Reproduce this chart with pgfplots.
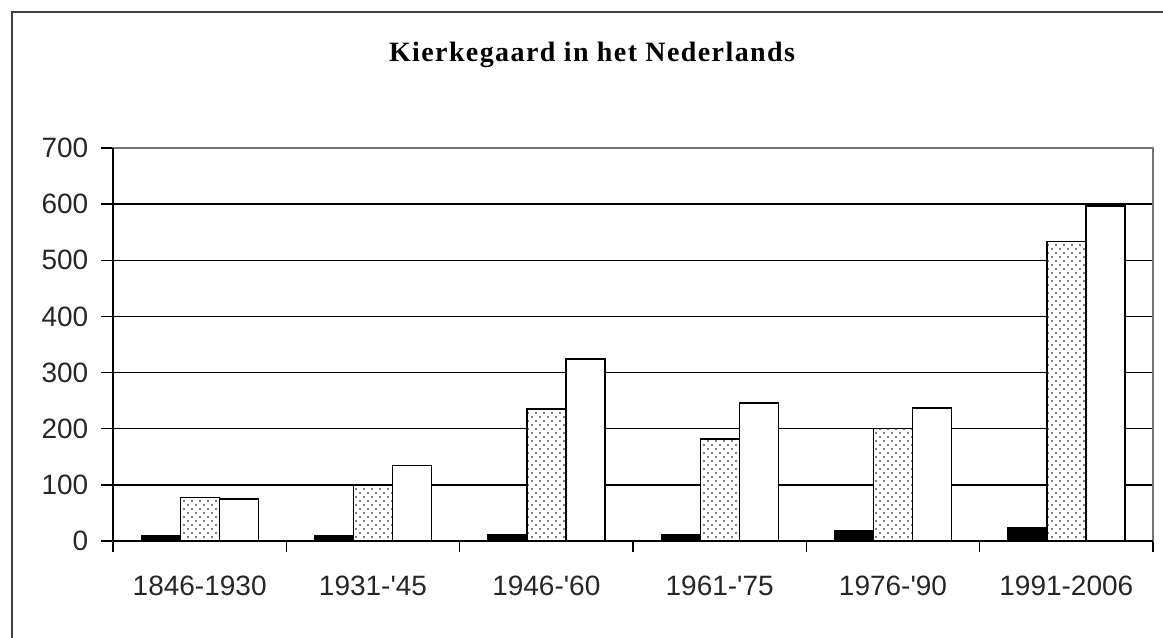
\documentclass[border=0pt]{standalone}
\usepackage{fontspec}
\setmainfont{Liberation Sans}
\newfontfamily\titlefont[LetterSpace=5]{Liberation Serif}
\usepackage{pgfplots}
\pgfplotsset{compat=1.18}
\usetikzlibrary{patterns}
\pgfdeclarepatternformonly{sparsedots}{\pgfqpoint{-1pt}{-1pt}}{\pgfqpoint{7pt}{7pt}}{\pgfqpoint{6pt}{6pt}}{%
  \pgfpathcircle{\pgfqpoint{0pt}{0pt}}{0.65pt}%
  \pgfpathcircle{\pgfqpoint{3pt}{3pt}}{0.65pt}%
  \pgfusepath{fill}%
}
\begin{document}
\begin{tikzpicture}[x=0.75pt,y=-0.75pt]
\useasboundingbox (0,0) rectangle (1163,637);
\draw[line width=1.6pt, black!75] (12,645) -- (12,12) -- (1170,12);
\node[font=\titlefont\bfseries\fontsize{21}{24}\selectfont] at (592,55) {Kierkegaard in het Nederlands};
\begin{axis}[
  at={(84.75pt,-405.75pt)}, anchor=south west,
  scale only axis, width=780pt, height=294.75pt,
  xmin=0, xmax=6, ymin=0, ymax=700,
  ytick={0,100,...,700},
  ymajorgrids, grid style={black, line width=1pt},
  axis line style={black!55, line width=1pt},
  xtick={0.5,1.5,2.5,3.5,4.5,5.5},
  xticklabels={1846-1930,1931-\textquotesingle45,1946-\textquotesingle60,1961-\textquotesingle75,1976-\textquotesingle90,1991-2006},
  major x tick style={draw=none},
  minor xtick={0,1,2,3,4,5,6},
  minor x tick style={black, line width=1pt},
  minor tick length=8pt,
  major tick length=9pt,
  y tick style={black, line width=1pt},
  tick align=outside,
  xtick pos=bottom, ytick pos=left,
  /pgf/number format/assume math mode=true,
  tick label style={font=\fontsize{21}{24}\selectfont, text=black!85},
  xticklabel style={yshift=-14pt},
  yticklabel style={xshift=-6pt},
  ybar=0pt, bar width=0.225,
  clip=false,
]
\addplot[fill=black, draw=black, line width=1pt] coordinates {(0.5,10)(1.5,10)(2.5,11)(3.5,11)(4.5,19)(5.5,23)};
\addplot[fill=white, draw=black, line width=1pt, postaction={pattern=sparsedots}] coordinates {(0.5,78)(1.5,100)(2.5,235)(3.5,182)(4.5,200)(5.5,533)};
\addplot[fill=white, draw=black, line width=1pt] coordinates {(0.5,75)(1.5,135)(2.5,324)(3.5,246)(4.5,237)(5.5,597)};
\draw[black, line width=1.5pt] (axis cs:0,0) -- (axis cs:6,0);
\draw[black, line width=1.5pt] (axis cs:0,0) -- (axis cs:0,700);
\end{axis}
\end{tikzpicture}
\end{document}
